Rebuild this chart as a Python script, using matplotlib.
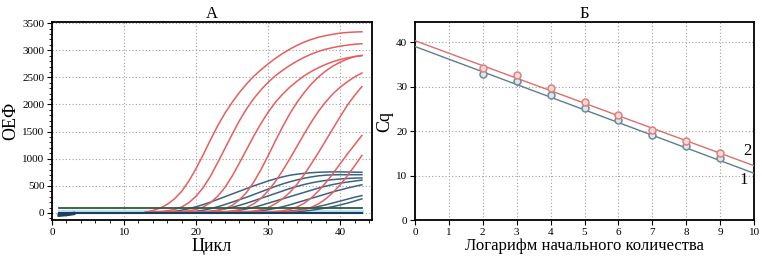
import matplotlib
matplotlib.use("Agg")
import matplotlib.pyplot as plt
from matplotlib.ticker import MultipleLocator

plt.rcParams["font.family"] = ["Liberation Serif", "DejaVu Serif"]

# --- panel A: amplification curves, one value per cycle from the start cycle to 43 ---
last_cycle = 43
red_start = [14, 14, 17, 22, 24, 27, 30, 32]
red_values = [
    [45, 90, 160, 260, 400, 590, 820, 1080, 1350, 1610, 1840, 2040, 2220, 2380, 2520,
     2640, 2750, 2850, 2940, 3020, 3090, 3150, 3200, 3240, 3270, 3295, 3315, 3328, 3336, 3340],
    [15, 25, 40, 65, 110, 190, 310, 470, 680, 930, 1190, 1450, 1700, 1920, 2110,
     2270, 2410, 2530, 2630, 2720, 2800, 2870, 2930, 2980, 3020, 3050, 3075, 3095, 3110, 3120],
    [18, 25, 40, 65, 110, 190, 310, 470, 680, 920, 1170, 1420, 1650, 1860, 2040,
     2190, 2320, 2430, 2530, 2610, 2680, 2740, 2790, 2830, 2860, 2885, 2900],
    [25, 45, 80, 140, 240, 380, 570, 800, 1060, 1330, 1590, 1830, 2040, 2220, 2380,
     2510, 2620, 2710, 2780, 2840, 2880, 2905],
    [20, 35, 60, 100, 170, 270, 410, 580, 780, 1000, 1230, 1460, 1680, 1880, 2050,
     2200, 2320, 2420, 2510, 2580],
    [20, 35, 60, 100, 170, 260, 380, 530, 710, 910, 1120, 1340, 1560, 1780, 1990, 2170, 2330],
    [15, 25, 40, 65, 110, 180, 280, 410, 560, 730, 910, 1090, 1260, 1430],
    [15, 25, 40, 65, 105, 170, 260, 380, 520, 690, 870, 1060],
]
red_first_cycle = 13
red_first_value = 15

blue_start = [14, 17, 19, 22, 25, 29, 31]
blue_values = [
    [0, 5, 15, 30, 50, 80, 115, 155, 200, 250, 300, 350, 400, 450, 500,
     545, 590, 630, 665, 695, 715, 730, 742, 750, 755, 757, 757, 755, 752, 750],
    [0, 5, 15, 30, 50, 80, 115, 155, 200, 245, 290, 340, 390, 440, 490,
     535, 575, 610, 640, 665, 685, 697, 703, 705, 705, 705, 705],
    [0, 5, 15, 30, 50, 75, 105, 140, 180, 225, 270, 315, 360, 405, 450,
     490, 525, 555, 580, 600, 615, 627, 636, 642, 645],
    [0, 5, 15, 30, 50, 75, 105, 140, 180, 220, 260, 300, 340, 380, 420,
     460, 495, 525, 550, 570, 588, 605],
    [0, 5, 12, 25, 40, 60, 85, 115, 150, 190, 230, 270, 310, 350, 390, 425, 460, 490, 520],
    [0, 5, 12, 22, 35, 50, 70, 95, 120, 150, 185, 220, 255, 290, 320],
    [0, 5, 12, 22, 35, 50, 70, 92, 118, 148, 182, 220, 260],
]

baseline_cycles = [1, 43]
threshold_level = [95, 95]
baseline_level = [0, 0]
band_level = [35, 35]
dip_cycles = [1, 2, 3]
dip_level = [-40, -30, -10]

# --- panel B: standard curves ---
log_amount = [2, 3, 4, 5, 6, 7, 8, 9]
cq_red = [34.2, 32.5, 29.7, 26.5, 23.7, 20.3, 17.7, 15.0]
cq_blue = [32.9, 31.2, 28.2, 25.2, 22.5, 19.0, 16.6, 13.9]
fit_x = [0, 10]
fit_red = [40.3, 12.2]
fit_blue = [39.0, 10.5]

RED = "#e65e5e"
BLUE = "#3d6280"
GREEN = "#2f5a3a"

fig = plt.figure(figsize=(7.62, 2.60), dpi=100)
ax1 = fig.add_axes([0.0682, 0.1538, 0.4200, 0.7615])
ax2 = fig.add_axes([0.5446, 0.1538, 0.4450, 0.7615])

for ax in (ax1, ax2):
    for s in ax.spines.values():
        s.set_linewidth(1.3)
    ax.tick_params(which="major", length=3.5, width=0.8, labelsize=8, pad=2)
    ax.tick_params(which="minor", length=2, width=0.6)
    ax.grid(which="major", linestyle=(0, (1, 2)), color="#a0a0a0", linewidth=0.8)
    ax.set_axisbelow(True)

# panel A
ax1.plot(baseline_cycles, band_level, color="#bfe3ee", lw=2.5, zorder=2)
for start, vals in zip(blue_start, blue_values):
    cyc = [1] + list(range(start, last_cycle + 1))
    ax1.plot(cyc, [0] + vals, color=BLUE, lw=1.1, zorder=3)
for start, vals in zip(red_start, red_values):
    cyc = [red_first_cycle] + list(range(start, last_cycle + 1))
    ax1.plot(cyc, [red_first_value] + vals, color=RED, lw=1.1, zorder=4)
ax1.plot(baseline_cycles, threshold_level, color=GREEN, lw=1.3, zorder=5)
ax1.plot(baseline_cycles, baseline_level, color="#1d3d63", lw=1.5, zorder=5)
ax1.plot(dip_cycles, dip_level, color="#1d3d63", lw=2.5, zorder=5)

ax1.set_xlim(0, 44.4)
ax1.set_ylim(-130, 3520)
ax1.xaxis.set_major_locator(MultipleLocator(10))
ax1.xaxis.set_minor_locator(MultipleLocator(2))
ax1.yaxis.set_major_locator(MultipleLocator(500))
ax1.yaxis.set_minor_locator(MultipleLocator(100))
ax1.set_title("А", fontsize=12, pad=3)
ax1.set_xlabel("Цикл", fontsize=13, labelpad=1)
ax1.set_ylabel("ОЕФ", fontsize=13, labelpad=2)

# panel B
ax2.plot(fit_x, fit_red, color="#d9706c", lw=1.0, zorder=3)
ax2.plot(fit_x, fit_blue, color="#5f7d8c", lw=1.0, zorder=3)
ax2.plot(log_amount, cq_blue, "o", ms=5, mfc="#dfe6ea", mec="#6f8c99", mew=1.1, zorder=4)
ax2.plot(log_amount, cq_red, "o", ms=5, mfc="#f6dada", mec="#e08080", mew=1.1, zorder=5)
ax2.text(9.8, 15.6, "2", fontsize=12, ha="center", va="center")
ax2.text(9.7, 9.0, "1", fontsize=12, ha="center", va="center")

ax2.set_xlim(0, 10)
ax2.set_ylim(0, 44.5)
ax2.xaxis.set_major_locator(MultipleLocator(1))
ax2.yaxis.set_major_locator(MultipleLocator(10))
ax2.set_title("Б", fontsize=12, pad=3)
ax2.set_xlabel("Логарифм начального количества", fontsize=12, labelpad=1)
ax2.set_ylabel("Cq", fontsize=13, labelpad=2)

fig.savefig("out.png", dpi=100)
